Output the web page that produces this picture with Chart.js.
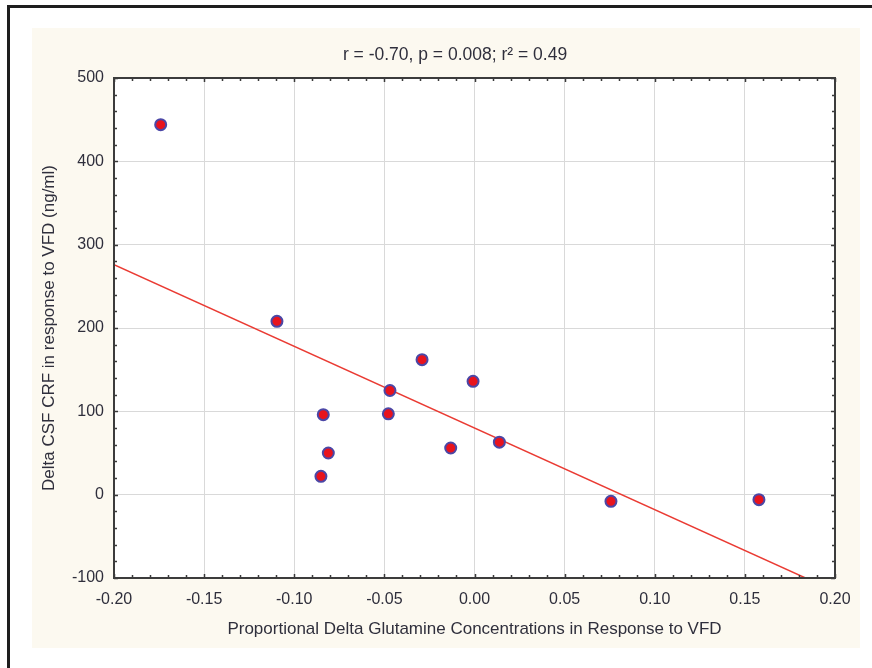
<!DOCTYPE html>
<html lang="en">
<head>
    <meta charset="UTF-8">
    <title>Delta CSF CRF vs Glutamine</title>
    <script src="https://cdn.jsdelivr.net/npm/chart.js"></script>
    <style>
        body {
            margin: 0;
            background: #ffffff;
        }
        #wrap {
            width: 872px;
            height: 668px;
            position: relative;
        }
    </style>
</head>
<body>
    <div id="wrap">
        <canvas id="chart"></canvas>
    </div>
    <script>
        // values
        var glutamineDelta = [-0.1741, -0.1096, -0.0839, -0.0811, -0.0852, -0.0469, -0.0478, -0.0291, -0.0008, -0.0132, 0.0138, 0.0757, 0.1578];
        var crfDelta = [444, 208, 96, 50, 22, 125, 97, 162, 136, 56, 63, -8, -6];

        // regression line (r = -0.70)
        var fitSlope = -980;
        var fitIntercept = 80;
        var fitX = [-0.20, 0.20];

        var xTicks = [-0.20, -0.15, -0.10, -0.05, 0.00, 0.05, 0.10, 0.15, 0.20];
        var yTicks = [-100, 0, 100, 200, 300, 400, 500];

        var titleText = 'r = -0.70, p = 0.008; r\u00B2 = 0.49';
        var xTitle = 'Proportional Delta Glutamine Concentrations in Response to VFD';
        var yTitle = 'Delta CSF CRF in response to VFD (ng/ml)';

        var textColor = '#2f2f3c';
        var fontFamily = '"Liberation Sans", Arial, sans-serif';

        var points = glutamineDelta.map((x, i) => ({ x: x, y: crfDelta[i] }));
        var fitPoints = fitX.map(x => ({ x: x, y: fitIntercept + fitSlope * x }));

        // background panel, frame, title, axis box and inward tick marks
        var framePlugin = {
            id: 'frame',
            beforeDraw(chart) {
                const ctx = chart.ctx;
                const a = chart.chartArea;
                ctx.save();
                ctx.fillStyle = '#ffffff';
                ctx.fillRect(0, 0, chart.width, chart.height);
                ctx.fillStyle = '#fcf9f0';
                ctx.fillRect(32, 28, 828, 620);
                ctx.fillStyle = '#1e1e1e';
                ctx.fillRect(7, 5, 3, 663);
                ctx.fillRect(7, 5, 865, 3);
                ctx.fillStyle = '#ffffff';
                ctx.fillRect(a.left, a.top, a.right - a.left, a.bottom - a.top);
                ctx.fillStyle = textColor;
                ctx.font = '17.5px ' + fontFamily;
                ctx.textAlign = 'center';
                ctx.textBaseline = 'middle';
                ctx.fillText(titleText, 455, 55);
                ctx.restore();
            },
            afterDatasetsDraw(chart) {
                const ctx = chart.ctx;
                const a = chart.chartArea;
                const xs = chart.scales.x;
                const ys = chart.scales.y;
                ctx.save();
                ctx.strokeStyle = '#3a3a3a';
                ctx.lineWidth = 1.5;
                ctx.beginPath();
                for (let i = 0; i <= 40; i++) {
                    const v = -0.2 + i * 0.01;
                    const px = Math.round(xs.getPixelForValue(v)) + 0.5;
                    const len = (i % 5 === 0) ? 4 : 3;
                    ctx.moveTo(px, a.bottom);
                    ctx.lineTo(px, a.bottom - len);
                    ctx.moveTo(px, a.top);
                    ctx.lineTo(px, a.top + len);
                }
                for (let i = 0; i <= 30; i++) {
                    const v = -100 + i * 20;
                    const py = Math.round(ys.getPixelForValue(v)) + 0.5;
                    const len = (i % 5 === 0) ? 4 : 3;
                    ctx.moveTo(a.left, py);
                    ctx.lineTo(a.left + len, py);
                    ctx.moveTo(a.right, py);
                    ctx.lineTo(a.right - len, py);
                }
                ctx.stroke();
                ctx.strokeStyle = '#3c3c3c';
                ctx.lineWidth = 2;
                ctx.strokeRect(a.left, a.top, a.right - a.left, a.bottom - a.top);
                ctx.restore();
            }
        };

        var chart = new Chart(document.getElementById('chart'), {
            type: 'scatter',
            data: {
                datasets: [
                    {
                        label: 'subjects',
                        data: points,
                        pointRadius: 5.5,
                        pointBorderWidth: 2,
                        pointBackgroundColor: '#e8131d',
                        pointBorderColor: '#4b47a6',
                        showLine: false
                    },
                    {
                        label: 'fit',
                        data: fitPoints,
                        showLine: true,
                        pointRadius: 0,
                        borderColor: '#ea3b33',
                        borderWidth: 1.5,
                        fill: false
                    }
                ]
            },
            options: {
                responsive: true,
                maintainAspectRatio: false,
                animation: false,
                layout: {
                    padding: { left: 0, top: 78, right: 37, bottom: 0 }
                },
                plugins: {
                    legend: { display: false },
                    tooltip: { enabled: false },
                    title: { display: false }
                },
                scales: {
                    x: {
                        type: 'linear',
                        min: -0.2,
                        max: 0.2,
                        afterBuildTicks: scale => { scale.ticks = xTicks.map(v => ({ value: v })); },
                        afterFit: scale => { scale.height = 90; },
                        grid: { color: '#d9d9d9', lineWidth: 1, drawTicks: false },
                        border: { display: false },
                        ticks: {
                            padding: 12,
                            color: textColor,
                            font: { family: fontFamily, size: 16 },
                            maxRotation: 0,
                            callback: v => v.toFixed(2)
                        },
                        title: {
                            display: true,
                            text: xTitle,
                            color: textColor,
                            font: { family: fontFamily, size: 17 },
                            padding: { top: 0, bottom: 28 }
                        }
                    },
                    y: {
                        type: 'linear',
                        min: -100,
                        max: 500,
                        afterBuildTicks: scale => { scale.ticks = yTicks.map(v => ({ value: v })); },
                        afterFit: scale => { scale.width = 114; },
                        grid: { color: '#d9d9d9', lineWidth: 1, drawTicks: false },
                        border: { display: false },
                        ticks: {
                            padding: 10,
                            color: textColor,
                            font: { family: fontFamily, size: 16 }
                        },
                        title: {
                            display: true,
                            text: yTitle,
                            color: textColor,
                            font: { family: fontFamily, size: 17 },
                            padding: { top: 39, bottom: 0 }
                        }
                    }
                }
            },
            plugins: [framePlugin]
        });
    </script>
</body>
</html>
